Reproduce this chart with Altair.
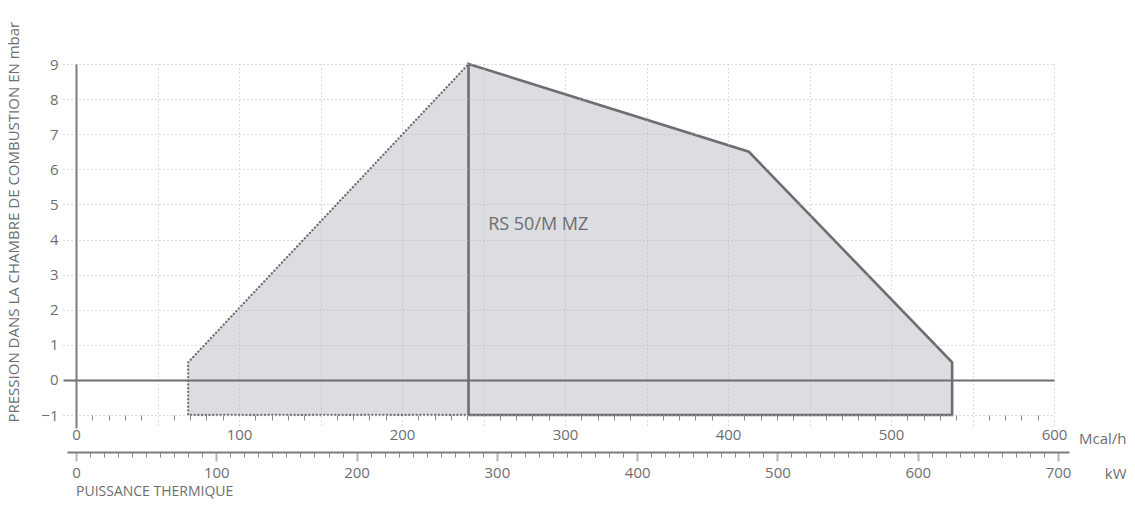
import altair as alt
import pandas as pd

KW_TO_MCAL = 0.86

# working field of the burner (kW, mbar)
area_kw = [80, 280, 480, 625]
area_top = [0.5, 9, 6.5, 0.5]
area_base = [-1, -1, -1, -1]

solid_kw = [280, 280, 480, 625, 625, 280]
solid_mbar = [-1, 9, 6.5, 0.5, -1, -1]

dotted_kw = [280, 80, 80, 280]
dotted_mbar = [-1, -1, 0.5, 9]

label_text = ["RS 50/M MZ"]
label_kw = [294]
label_mbar = [4.4]

mcal_ticks = list(range(0, 601, 10))
kw_ticks = list(range(0, 701, 10))
y_ticks = [v / 2 for v in range(-2, 19)]

FONT = "Open Sans"
TXT = "#6d6e71"
GRID = "#b8b8bb"
LINE = "#6d6e71"

area_df = pd.DataFrame({"kw": area_kw, "top": area_top, "base": area_base})
solid_df = pd.DataFrame({"kw": solid_kw, "mbar": solid_mbar, "o": range(len(solid_kw))})
dotted_df = pd.DataFrame({"kw": dotted_kw, "mbar": dotted_mbar, "o": range(len(dotted_kw))})
label_df = pd.DataFrame({"kw": label_kw, "mbar": label_mbar, "t": label_text})
kw_df = pd.DataFrame({"kw": kw_ticks})

conv = f"datum.kw * {KW_TO_MCAL}"

x_scale = alt.Scale(domain=[-8, 600], nice=False, zero=False)
y_scale = alt.Scale(domain=[-1.37, 9], nice=False, zero=False)

x_axis = alt.Axis(
    values=mcal_ticks, tickCount=500, orient="bottom", offset=-13, domain=False,
    format="d",
    labelExpr="datum.value % 100 === 0 ? datum.label : ''",
    labelOverlap=False, labelFlush=False, labelBound=False,
    tickSize=5, tickColor="#8c8c8f", tickWidth=1,
    tickOpacity={"condition": {"test": "datum.value % 50 === 0", "value": 0}, "value": 1},
    grid=True, gridColor=GRID, gridDash=[1, 3], gridWidth=1,
    gridOpacity={"condition": {"test": "datum.value % 50 !== 0", "value": 0}, "value": 1},
    labelFont=FONT, labelFontSize=15, labelColor=TXT, labelPadding=7,
    title="Mcal/h", titleFont=FONT, titleFontSize=15, titleFontWeight="normal",
    titleColor=TXT, titleX=1063, titleY=23, titleAlign="right", titleBaseline="middle",
    titleAngle=0, zindex=1,
)

y_axis = alt.Axis(
    values=y_ticks, tickCount=500, orient="left", offset=-13,
    format="d",
    domain=True, domainColor="#7d7d80", domainWidth=2,
    labelExpr="datum.value % 1 === 0 ? datum.label : ''",
    labelOverlap=False, labelFlush=False, labelBound=False,
    tickSize=6, tickColor="#9a9a9d", tickWidth=1.5,
    tickOpacity={"condition": {"test": "datum.value % 1 === 0", "value": 0}, "value": 1},
    grid=True,
    gridOpacity={"condition": {"test": "datum.value % 1 !== 0", "value": 0}, "value": 1},
    gridDash={"condition": {"test": "datum.value === 0", "value": []}, "value": [1, 3]},
    gridColor={"condition": {"test": "datum.value === 0", "value": LINE}, "value": GRID},
    gridWidth={"condition": {"test": "datum.value === 0", "value": 2}, "value": 1},
    labelFont=FONT, labelFontSize=15, labelColor=TXT, labelPadding=12,
    title="PRESSION DANS LA CHAMBRE DE COMBUSTION EN mbar",
    titleFont=FONT, titleFontSize=15, titleFontWeight="normal", titleColor=TXT,
    titleAngle=270, titleAlign="left", titleBaseline="middle",
    titleX=-63, titleY=358, zindex=1,
)

area = alt.Chart(area_df).transform_calculate(mcal=conv).mark_area(
    color="#dcdde0", opacity=1
).encode(
    x=alt.X("mcal:Q", scale=x_scale, axis=x_axis),
    y=alt.Y("top:Q", scale=y_scale, axis=y_axis),
    y2="base:Q",
)

dotted = alt.Chart(dotted_df).transform_calculate(mcal=conv).mark_line(
    color=LINE, strokeWidth=2.3, strokeDash=[0.1, 3.6], strokeCap="round"
).encode(x="mcal:Q", y="mbar:Q", order="o:Q")

solid = alt.Chart(solid_df).transform_calculate(mcal=conv).mark_line(
    color=LINE, strokeWidth=2.6, strokeJoin="miter"
).encode(x="mcal:Q", y="mbar:Q", order="o:Q")

label = alt.Chart(label_df).transform_calculate(mcal=conv).mark_text(
    align="left", baseline="middle", font=FONT, fontSize=18, color=TXT
).encode(x="mcal:Q", y="mbar:Q", text="t:N")

kw_axis = alt.Axis(
    values=kw_ticks, tickCount=500, orient="bottom", offset=24,
    format="d",
    domain=True, domainColor="#7d7d80", domainWidth=2,
    labelExpr="datum.value % 100 === 0 ? datum.label : ''",
    labelOverlap=False, labelFlush=False, labelBound=False,
    tickSize={"condition": {"test": "datum.value % 100 === 0", "value": 9}, "value": 5},
    tickColor={"condition": {"test": "datum.value % 100 === 0", "value": "#b4b4b7"}, "value": "#8c8c8f"},
    tickWidth={"condition": {"test": "datum.value % 100 === 0", "value": 2}, "value": 1},
    grid=False,
    labelFont=FONT, labelFontSize=15, labelColor=TXT, labelPadding=4,
    title="kW", titleFont=FONT, titleFontSize=15, titleFontWeight="normal",
    titleColor=TXT, titleX=1063, titleY=21, titleAlign="right", titleBaseline="middle",
)

kw_layer = alt.Chart(kw_df).mark_point(opacity=0).encode(
    x=alt.X("kw:Q", scale=alt.Scale(domain=[-6.4, 707.8], range=[4, 1006], nice=False, zero=False),
            axis=kw_axis)
)

inner = alt.layer(area, dotted, solid, label)

chart = alt.layer(inner, kw_layer).resolve_scale(x="independent").properties(
    width=991, height=364,
    padding={"left": 55, "top": 56, "right": 72, "bottom": 71},
    autosize=alt.AutoSizeParams(type="none"),
    title=alt.TitleParams(
        "PUISSANCE THERMIQUE", orient="bottom", anchor="start", frame="group",
        font=FONT, fontSize=14, fontWeight="normal", color=TXT, dx=13, offset=4,
    ),
).configure_view(stroke=None)

chart.save("out.html", embed_options={"renderer": "svg", "actions": False})
